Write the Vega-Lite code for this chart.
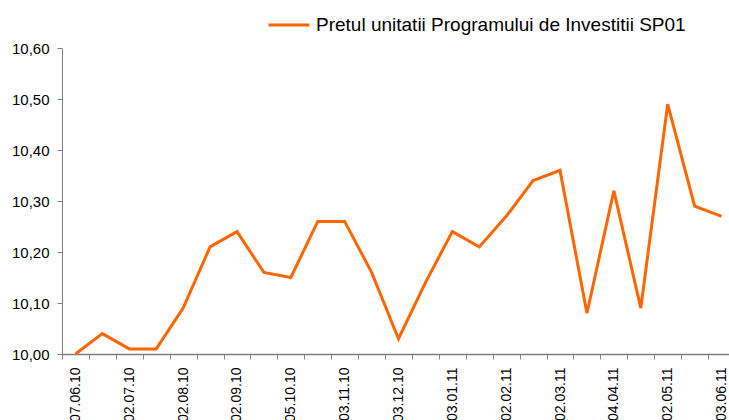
{
  "$schema": "https://vega.github.io/schema/vega-lite/v6.json",
  "autosize": "none",
  "width": 667,
  "height": 306,
  "padding": {"left": 62, "top": 48, "right": 0, "bottom": 66},
  "background": "white",
  "config": {"view": {"stroke": null}, "font": "Liberation Sans"},
  "data": {"values": [
    {"date": "07.06.10", "price": 10.00},
    {"date": "18.06.10", "price": 10.04},
    {"date": "02.07.10", "price": 10.01},
    {"date": "16.07.10", "price": 10.01},
    {"date": "02.08.10", "price": 10.09},
    {"date": "16.08.10", "price": 10.21},
    {"date": "02.09.10", "price": 10.24},
    {"date": "16.09.10", "price": 10.16},
    {"date": "05.10.10", "price": 10.15},
    {"date": "18.10.10", "price": 10.26},
    {"date": "03.11.10", "price": 10.26},
    {"date": "17.11.10", "price": 10.16},
    {"date": "03.12.10", "price": 10.03},
    {"date": "17.12.10", "price": 10.14},
    {"date": "03.01.11", "price": 10.24},
    {"date": "17.01.11", "price": 10.21},
    {"date": "02.02.11", "price": 10.27},
    {"date": "16.02.11", "price": 10.34},
    {"date": "02.03.11", "price": 10.36},
    {"date": "16.03.11", "price": 10.08},
    {"date": "04.04.11", "price": 10.32},
    {"date": "18.04.11", "price": 10.09},
    {"date": "02.05.11", "price": 10.49},
    {"date": "16.05.11", "price": 10.29},
    {"date": "03.06.11", "price": 10.27}
  ]},
  "mark": {"type": "line", "strokeWidth": 3, "strokeJoin": "miter"},
  "encoding": {
    "x": {
      "field": "date", "type": "ordinal", "sort": null, "bandPosition": 0.5,
      "scale": {"type": "band", "paddingInner": 0, "paddingOuter": 0, "range": [0, 673]},
      "axis": {
        "title": null, "tickBand": "extent", "labelAngle": 270, "labelAlign": "right", "labelBaseline": "middle",
        "labelExpr": "indexof(['07.06.10','02.07.10','02.08.10','02.09.10','05.10.10','03.11.10','03.12.10','03.01.11','02.02.11','02.03.11','04.04.11','02.05.11','03.06.11'], datum.value) >= 0 ? datum.value : ''",
        "labelFontSize": 14, "labelColor": "#000000", "labelPadding": 8, "labelOverlap": false,
        "tickSize": 5, "tickColor": "#808080", "domainColor": "#808080", "domainWidth": 1.5, "grid": false
      }
    },
    "y": {
      "field": "price", "type": "quantitative",
      "scale": {"domain": [10, 10.6], "nice": false, "zero": false},
      "axis": {
        "title": null, "values": [10, 10.1, 10.2, 10.3, 10.4, 10.5, 10.6],
        "labelExpr": "replace(format(datum.value, '.2f'), '.', ',')",
        "labelFontSize": 15, "labelColor": "#000000", "labelPadding": 8,
        "tickSize": 5, "tickColor": "#808080", "domainColor": "#808080", "grid": false
      }
    },
    "color": {
      "datum": "Pretul unitatii Programului de Investitii SP01",
      "scale": {"range": ["#ff6600"]},
      "legend": {
        "title": null, "orient": "none", "legendX": 205, "legendY": -45,
        "symbolType": "stroke", "symbolSize": 1681, "symbolStrokeWidth": 3,
        "labelFontSize": 19, "labelColor": "#000000", "labelOffset": 5, "labelLimit": 0, "padding": 0
      }
    }
  }
}
